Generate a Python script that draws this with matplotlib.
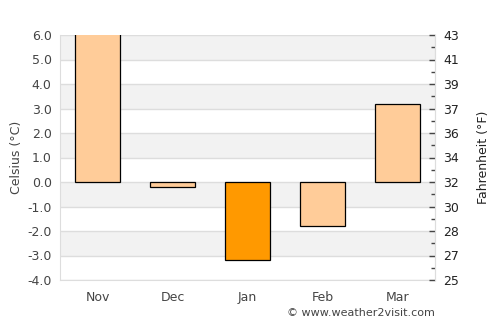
import matplotlib
matplotlib.use("Agg")
import matplotlib.pyplot as plt
import numpy as np

months = ["Nov", "Dec", "Jan", "Feb", "Mar"]
celsius = [6.3, -0.2, -3.2, -1.8, 3.2]
highlight = [False, False, True, False, False]
c_ticks = [-4, -3, -2, -1, 0, 1, 2, 3, 4, 5, 6]
c_labels = ["-4.0", "-3.0", "-2.0", "-1.0", "0.0", "1.0", "2.0", "3.0", "4.0", "5.0", "6.0"]
f_labels = ["25", "27", "28", "30", "32", "34", "36", "37", "39", "41", "43"]
band_starts = [5, 3, 1, -1, -3]

fig = plt.figure(figsize=(5, 3.25), dpi=100)
ax = fig.add_axes([60/500, 1-280/325, 375/500, 245/325])
ax.set_xlim(-0.5, 4.5)
ax.set_ylim(-4, 6)

for lo in band_starts:
    ax.axhspan(lo, lo + 1, color="#f2f2f2", zorder=0, lw=0)
for t in c_ticks:
    ax.axhline(t, color="#dddddd", lw=1, zorder=1)

x = np.arange(len(months))
colors = ["#ff9900" if h else "#ffcc99" for h in highlight]
ax.bar(x, celsius, width=0.6, color=colors, edgecolor="black", linewidth=0.9, zorder=3)

ax.set_xticks(x)
ax.set_xticklabels(months, color="#444444", fontsize=9)
ax.set_yticks(c_ticks)
ax.set_yticklabels(c_labels, color="#444444", fontsize=9)
ax.tick_params(axis="both", length=0, pad=6)
ax.tick_params(axis="x", pad=8)
ax.spines["top"].set_visible(False)
for s in ["left", "bottom", "right"]:
    ax.spines[s].set_color("#dddddd")
ax.set_ylabel("Celsius (°C)", color="#444444", fontsize=9, labelpad=3)

ax2 = ax.twinx()
ax2.set_ylim(-4, 6)
ax2.set_yticks(c_ticks)
ax2.set_yticklabels(f_labels, color="#222222", fontsize=9)
ax2.set_yticks([t + 0.5 for t in c_ticks[:-1]], minor=True)
ax2.tick_params(axis="y", which="major", direction="in", length=4, width=1, color="#444444", pad=6)
ax2.tick_params(axis="y", which="minor", direction="in", length=3, width=1, color="#444444")
for s in ["top", "left", "bottom"]:
    ax2.spines[s].set_visible(False)
ax2.spines["right"].set_color("#dddddd")
ax2.set_ylabel("Fahrenheit (°F)", color="#222222", fontsize=9, labelpad=13)

fig.text(435/500, 1-313/325, "© www.weather2visit.com", ha="right", va="center",
         color="#444444", fontsize=8)

fig.savefig("out.png", dpi=100)
